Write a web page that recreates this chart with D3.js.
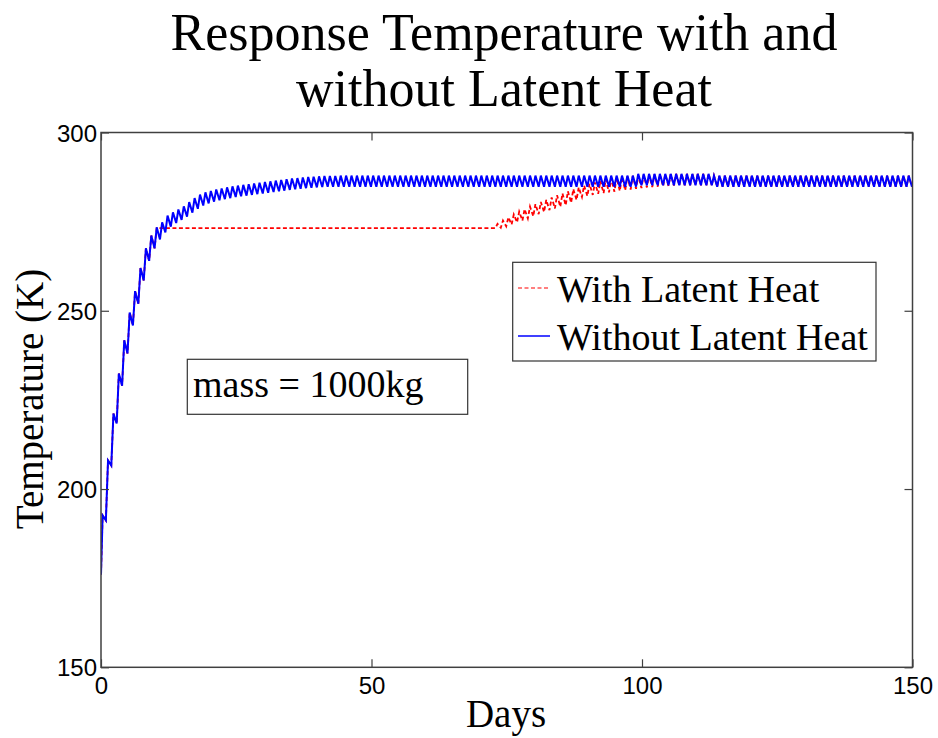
<!DOCTYPE html>
<html lang="en">
<head>
<meta charset="UTF-8">
<title>Response Temperature</title>
<script src="https://cdn.jsdelivr.net/npm/d3@7/dist/d3.min.js"></script>
<style>
  body { margin: 0; background: #fff; }
  .serif { font-family: "Times New Roman", "Liberation Serif", serif; fill: #000; }
  .tick text { font-family: Arial, "Liberation Sans", sans-serif; font-size: 24px; fill: #000; }
</style>
</head>
<body>
<svg width="938" height="738"></svg>
<script>
// temperature (K) at day 0, then one daily peak and one daily trough per day
var startTemp = 176;

var blueHigh = [
  192.6, 208, 221.2, 232.4, 241.7, 249.5, 255.5, 262, 267.5, 271.1, 273.4, 274.8, 276.7, 277.6, 278.4,
  279.3, 280.5, 281.6, 282.6, 283.2, 283.6, 284, 284.3, 284.6, 284.9, 285.1, 285.3, 285.5, 285.7, 285.9,
  286.1, 286.3, 286.5, 286.7, 286.9, 287.1, 287.2, 287.4, 287.5, 287.6, 287.7, 287.8, 287.8, 287.8, 287.9,
  287.9, 287.9, 287.9, 287.9, 287.9, 287.9, 287.9, 287.9, 287.9, 287.9, 287.9, 287.9, 287.9, 287.9, 287.9,
  287.9, 287.9, 287.9, 287.9, 287.9, 287.9, 287.9, 287.9, 287.9, 287.9, 287.9, 287.9, 287.9, 287.9, 287.9,
  287.9, 287.9, 287.9, 287.9, 287.9, 287.9, 287.9, 287.9, 287.9, 287.9, 287.9, 287.9, 287.9, 287.9, 287.9,
  287.9, 287.9, 287.9, 287.9, 287.9, 287.9, 287.9, 287.9, 287.9, 288.4, 288.4, 288.4, 288.4, 288.4, 288.4,
  288.4, 288.4, 288.4, 288.4, 288.4, 288.4, 288.4, 288.4, 287.9, 287.9, 287.9, 287.9, 287.9, 287.9, 287.9,
  287.9, 287.9, 287.9, 287.9, 287.9, 287.9, 287.9, 287.9, 287.9, 287.9, 287.9, 287.9, 287.9, 287.9, 287.9,
  287.9, 287.9, 287.9, 287.9, 287.9, 287.9, 287.9, 287.9, 287.9, 287.9, 287.9, 287.9, 287.9, 287.9, 287.9
];
var blueLow = [
  191.2, 206.6, 218.4, 229, 238, 245.9, 252, 258.5, 264, 267.5, 270, 272, 273.6, 274.6, 275.5,
  276.4, 277.5, 278.6, 279.5, 280.1, 280.6, 281, 281.3, 281.6, 281.9, 282.1, 282.3, 282.5, 282.7, 282.9,
  283.1, 283.3, 283.5, 283.7, 283.9, 284.1, 284.2, 284.4, 284.5, 284.6, 284.7, 284.8, 284.8, 284.8, 284.8,
  284.8, 284.8, 284.8, 284.8, 284.8, 284.8, 284.8, 284.8, 284.8, 284.8, 284.8, 284.8, 284.8, 284.8, 284.8,
  284.8, 284.8, 284.8, 284.8, 284.8, 284.8, 284.8, 284.8, 284.8, 284.8, 284.8, 284.8, 284.8, 284.8, 284.8,
  284.8, 284.8, 284.8, 284.8, 284.8, 284.8, 284.8, 284.8, 284.8, 284.8, 284.8, 284.8, 284.8, 284.8, 284.8,
  284.8, 284.8, 284.8, 284.8, 284.8, 284.8, 284.8, 284.8, 284.8, 285.2, 285.2, 285.2, 285.2, 285.2, 285.2,
  285.2, 285.2, 285.2, 285.2, 285.2, 285.2, 285.2, 285.2, 284.8, 284.8, 284.8, 284.8, 284.8, 284.8, 284.8,
  284.8, 284.8, 284.8, 284.8, 284.8, 284.8, 284.8, 284.8, 284.8, 284.8, 284.8, 284.8, 284.8, 284.8, 284.8,
  284.8, 284.8, 284.8, 284.8, 284.8, 284.8, 284.8, 284.8, 284.8, 284.8, 284.8, 284.8, 284.8, 284.8, 284.8
];
var redHigh = [
  192.6, 208, 221.2, 232.4, 241.7, 249.5, 255.5, 262, 267.5, 271.1, 273.2, 273.2, 273.2, 273.2, 273.2,
  273.2, 273.2, 273.2, 273.2, 273.2, 273.2, 273.2, 273.2, 273.2, 273.2, 273.2, 273.2, 273.2, 273.2, 273.2,
  273.2, 273.2, 273.2, 273.2, 273.2, 273.2, 273.2, 273.2, 273.2, 273.2, 273.2, 273.2, 273.2, 273.2, 273.2,
  273.2, 273.2, 273.2, 273.2, 273.2, 273.2, 273.2, 273.2, 273.2, 273.2, 273.2, 273.2, 273.2, 273.2, 273.2,
  273.2, 273.2, 273.2, 273.2, 273.2, 273.2, 273.2, 273.2, 273.2, 273.2, 273.2, 273.2, 273.2, 274.4, 275.3,
  276.2, 277, 277.8, 278.5, 279.2, 279.9, 280.5, 281.1, 281.8, 282.4, 282.9, 283.5, 284.1, 284.6, 285.1,
  285.6, 286, 286.4, 286.8, 287.1, 287.3, 287.5, 287.7, 287.8, 287.9, 288, 288.1, 288.2, 288.2, 288.3,
  288.3, 288.4, 288.4, 288.4, 288.4, 288.4, 288.4, 288.4, 287.9, 287.9, 287.9, 287.9, 287.9, 287.9, 287.9,
  287.9, 287.9, 287.9, 287.9, 287.9, 287.9, 287.9, 287.9, 287.9, 287.9, 287.9, 287.9, 287.9, 287.9, 287.9,
  287.9, 287.9, 287.9, 287.9, 287.9, 287.9, 287.9, 287.9, 287.9, 287.9, 287.9, 287.9, 287.9, 287.9, 287.9
];
var redLow = [
  191.2, 206.6, 218.4, 229, 238, 245.9, 252, 258.5, 264, 267.5, 273.2, 273.2, 273.2, 273.2, 273.2,
  273.2, 273.2, 273.2, 273.2, 273.2, 273.2, 273.2, 273.2, 273.2, 273.2, 273.2, 273.2, 273.2, 273.2, 273.2,
  273.2, 273.2, 273.2, 273.2, 273.2, 273.2, 273.2, 273.2, 273.2, 273.2, 273.2, 273.2, 273.2, 273.2, 273.2,
  273.2, 273.2, 273.2, 273.2, 273.2, 273.2, 273.2, 273.2, 273.2, 273.2, 273.2, 273.2, 273.2, 273.2, 273.2,
  273.2, 273.2, 273.2, 273.2, 273.2, 273.2, 273.2, 273.2, 273.2, 273.2, 273.2, 273.2, 273.2, 273.3, 273.7,
  274.2, 274.8, 275.3, 275.9, 276.5, 277.1, 277.7, 278.2, 278.7, 279.2, 279.6, 280.3, 281.1, 281.9, 282.2,
  282.5, 282.8, 283, 283.2, 283.4, 283.6, 283.8, 284, 284.2, 284.4, 284.6, 284.7, 284.8, 284.9, 285,
  285.1, 285.2, 285.2, 285.2, 285.2, 285.2, 285.2, 285.2, 284.8, 284.8, 284.8, 284.8, 284.8, 284.8, 284.8,
  284.8, 284.8, 284.8, 284.8, 284.8, 284.8, 284.8, 284.8, 284.8, 284.8, 284.8, 284.8, 284.8, 284.8, 284.8,
  284.8, 284.8, 284.8, 284.8, 284.8, 284.8, 284.8, 284.8, 284.8, 284.8, 284.8, 284.8, 284.8, 284.8, 284.8
];

var xTicks = [0, 50, 100, 150];
var yTicks = [150, 200, 250, 300];
var titleLines = ["Response Temperature with and", "without Latent Heat"];
var legendNames = ["With Latent Heat", "Without Latent Heat"];
var note = "mass = 1000kg";

var box = { left: 101, right: 912.5, top: 132.5, bottom: 667.3 };
var svg = d3.select("svg");

var x = d3.scaleLinear().domain([0, 150]).range([box.left, box.right]);
var y = d3.scaleLinear().domain([150, 300]).range([box.bottom, box.top]);

// peak in the early part of each day, trough late in the day
function toPoints(high, low) {
  var pts = [{ t: 0, v: startTemp }];
  for (var d = 0; d < high.length; d++) {
    pts.push({ t: d + 0.3, v: high[d] });
    pts.push({ t: d + 0.9, v: low[d] });
  }
  return pts;
}

svg.append("clipPath").attr("id", "clip")
  .append("rect")
  .attr("x", box.left).attr("y", box.top)
  .attr("width", box.right - box.left).attr("height", box.bottom - box.top);

var line = d3.line()
  .x(function (d) { return x(d.t); })
  .y(function (d) { return y(d.v); });

var plot = svg.append("g").attr("clip-path", "url(#clip)");

plot.append("path")
  .attr("d", line(toPoints(redHigh, redLow)))
  .style("fill", "none")
  .style("stroke", "#ff0000")
  .style("stroke-width", 1.8)
  .style("stroke-dasharray", "4,2.5");

plot.append("path")
  .attr("d", line(toPoints(blueHigh, blueLow)))
  .style("fill", "none")
  .style("stroke", "#0000ff")
  .style("stroke-width", 2);

// axes, ticks inward on all four sides
var axisColor = "#404040";
var xBottom = svg.append("g").attr("transform", "translate(0," + box.bottom + ")")
  .call(d3.axisBottom(x).tickValues(xTicks).tickSize(-8).tickPadding(10));
var yLeft = svg.append("g").attr("transform", "translate(" + box.left + ",0)")
  .call(d3.axisLeft(y).tickValues(yTicks).tickSize(-8).tickPadding(4));
var xTop = svg.append("g").attr("transform", "translate(0," + box.top + ")")
  .call(d3.axisTop(x).tickValues(xTicks).tickSize(-8).tickFormat(""));
var yRight = svg.append("g").attr("transform", "translate(" + box.right + ",0)")
  .call(d3.axisRight(y).tickValues(yTicks).tickSize(-8).tickFormat(""));

svg.selectAll(".domain").remove();
svg.selectAll(".tick line").style("stroke", axisColor).style("stroke-width", 1.2);
xBottom.selectAll(".tick text").attr("dy", "0.71em");
yLeft.selectAll(".tick text").attr("dy", "0.36em");

svg.append("rect")
  .attr("x", box.left).attr("y", box.top)
  .attr("width", box.right - box.left).attr("height", box.bottom - box.top)
  .style("fill", "none")
  .style("stroke", axisColor)
  .style("stroke-width", 1.5);

// title
svg.selectAll(".title").data(titleLines).enter().append("text")
  .attr("class", "serif title")
  .attr("x", 504)
  .attr("y", function (d, i) { return 50 + i * 56; })
  .attr("text-anchor", "middle")
  .style("font-size", "52px")
  .text(function (d) { return d; });

// axis labels
svg.append("text").attr("class", "serif")
  .attr("x", 506).attr("y", 727)
  .attr("text-anchor", "middle")
  .style("font-size", "39px")
  .text("Days");
svg.append("text").attr("class", "serif")
  .attr("transform", "translate(43,399) rotate(-90)")
  .attr("text-anchor", "middle")
  .style("font-size", "39px")
  .text("Temperature (K)");

// legend
var lg = svg.append("g");
lg.append("rect")
  .attr("x", 512.7).attr("y", 262.3).attr("width", 363.3).attr("height", 98.7)
  .style("fill", "#fff").style("stroke", "#333").style("stroke-width", 1.2);
var items = lg.selectAll(".item").data(legendNames).enter().append("g")
  .attr("transform", function (d, i) { return "translate(0," + (i * 48) + ")"; });
items.append("line")
  .attr("x1", 518).attr("x2", 550).attr("y1", 288).attr("y2", 288)
  .style("stroke", function (d, i) { return i === 0 ? "#ff0000" : "#0000ff"; })
  .style("stroke-width", function (d, i) { return i === 0 ? 1.2 : 1.5; })
  .style("stroke-dasharray", function (d, i) { return i === 0 ? "4,2.5" : null; });
items.append("text").attr("class", "serif")
  .attr("x", 557).attr("y", 302)
  .style("font-size", "38px")
  .text(function (d) { return d; });

// annotation box
svg.append("rect")
  .attr("x", 187.3).attr("y", 359.3).attr("width", 280.4).attr("height", 55)
  .style("fill", "#fff").style("stroke", "#333").style("stroke-width", 1.2);
svg.append("text").attr("class", "serif")
  .attr("x", 193).attr("y", 397)
  .style("font-size", "38px")
  .text(note);
</script>
</body>
</html>
